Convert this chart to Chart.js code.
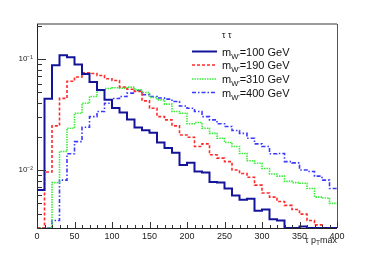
<!DOCTYPE html>
<html><head><meta charset="utf-8">
<script src="https://cdn.jsdelivr.net/npm/chart.js@4"></script>
<style>html,body{margin:0;padding:0;background:#fff;}#wrap{width:374px;height:253px;}</style>
</head><body><div id="wrap"><canvas id="c" width="374" height="253"></canvas></div>
<script>
// bin low edges (bin width 10)
const binLow = [0,10,20,30,40,50,60,70,80,90,100,110,120,130,140,150,160,170,180,190,200,210,220,230,240,250,260,270,280,290,300,310,320,330,340,350,360,370,380,390];
const xMax = 400;
const seriesNames = ["100", "190", "310", "400"];
const m100 = [0.0066,0.0439,0.0880,0.108,0.104,0.0895,0.0735,0.0620,0.0526,0.0429,0.0362,0.0330,0.0285,0.0242,0.0228,0.0217,0.0177,0.0158,0.0143,0.0111,0.0116,0.0097,0.0095,0.0078,0.0077,0.0068,0.0059,0.0054,0.0055,0.0043,0.0044,0.0036,0.0035,0,0,0.0031,0,0,0,0];
const m190 = [0,0.0096,0.0250,0.0442,0.0630,0.0690,0.0750,0.0740,0.0710,0.0665,0.0640,0.0560,0.0535,0.0510,0.0420,0.0360,0.0303,0.0283,0.0250,0.0207,0.0197,0.0163,0.0172,0.0137,0.0128,0.0119,0.0100,0.0093,0.0086,0.0073,0.0062,0.0057,0.0052,0.0048,0.0044,0.0040,0.0035,0.0032,0.0030,0];
const m310 = [0,0,0.0077,0.0147,0.0238,0.0325,0.0400,0.0460,0.0521,0.0543,0.0551,0.0547,0.0558,0.0528,0.0500,0.0451,0.0429,0.0392,0.0337,0.0325,0.0261,0.0268,0.0238,0.0214,0.0193,0.0177,0.0163,0.0141,0.0121,0.0115,0.0103,0.0092,0.0088,0.0079,0.0077,0.0076,0.0068,0.0057,0.0056,0.0050];
const m400 = [0,0,0.0035,0.0081,0.0140,0.0180,0.0243,0.0303,0.0337,0.0400,0.0441,0.0460,0.0493,0.0521,0.0476,0.0460,0.0445,0.0435,0.0414,0.0378,0.0360,0.0337,0.0303,0.0283,0.0261,0.0247,0.0227,0.0214,0.0193,0.0172,0.0163,0.0140,0.0141,0.0119,0.0116,0.0100,0.0097,0.0088,0.0081,0.0068];
const yMin = 0.003, yMax = 0.207;
const yLabels = {"0.1": "10\u207B\u00B9", "0.01": "10\u207B\u00B2"};

const styles = [
  {color: "#14149a", width: 2, dash: []},
  {color: "#ff2a2a", width: 1.6, dash: [3, 2]},
  {color: "#3cee3c", width: 1.6, dash: [1.5, 1]},
  {color: "#3a3aff", width: 1.6, dash: [4, 2, 1.5, 2]}
];
const values = [m100, m190, m310, m400];

function toPoints(arr) {
  const pts = binLow.map((x, i) => ({x: x, y: Math.max(arr[i], yMin)}));
  pts.push({x: xMax, y: Math.max(arr[arr.length - 1], yMin)});
  return pts;
}

const datasets = values.map((arr, k) => ({
  label: seriesNames[k],
  data: toPoints(arr),
  borderColor: styles[k].color,
  borderWidth: styles[k].width,
  borderDash: styles[k].dash,
  stepped: 'before',
  pointRadius: 0,
  fill: false,
  tension: 0
}));

const FONT = "'Liberation Sans', Arial, Helvetica, sans-serif";

const rootPlugin = {
  id: 'rootStyle',
  afterDraw(chart) {
    const ctx = chart.ctx;
    const a = chart.chartArea;
    const xs = chart.scales.x, ys = chart.scales.y;
    ctx.save();
    // frame
    ctx.lineWidth = 2; ctx.strokeStyle = '#9a9a9a';
    ctx.beginPath(); ctx.moveTo(a.left, a.top); ctx.lineTo(a.right, a.top); ctx.stroke();
    ctx.lineWidth = 1; ctx.strokeStyle = '#555';
    ctx.beginPath(); ctx.moveTo(a.right + 0.5, a.top); ctx.lineTo(a.right + 0.5, a.bottom); ctx.stroke();
    ctx.strokeStyle = '#222';
    ctx.beginPath(); ctx.moveTo(a.left + 0.5, a.top); ctx.lineTo(a.left + 0.5, a.bottom + 0.5); ctx.lineTo(a.right, a.bottom + 0.5); ctx.stroke();
    // x ticks
    ctx.strokeStyle = '#333'; ctx.lineWidth = 1;
    for (let v = 0; v <= xMax; v += 10) {
      const px = Math.round(xs.getPixelForValue(v)) + 0.5;
      const len = (v % 50 === 0) ? 6 : 3;
      ctx.beginPath(); ctx.moveTo(px, a.bottom); ctx.lineTo(px, a.bottom - len); ctx.stroke();
    }
    // y ticks (log)
    for (let e = -3; e <= -1; e++) {
      for (let m = 1; m <= 9; m++) {
        const v = m * Math.pow(10, e);
        if (v < yMin * 0.999 || v > yMax) continue;
        const py = Math.round(ys.getPixelForValue(v)) + 0.5;
        const len = (m === 1) ? 9 : 5;
        ctx.beginPath(); ctx.moveTo(a.left, py); ctx.lineTo(a.left + len, py); ctx.stroke();
      }
    }
    // x title: tau p_T max
    ctx.fillStyle = '#222';
    ctx.textBaseline = 'alphabetic';
    ctx.font = '9px ' + FONT;
    const t1 = '\u03C4 p', t3 = 'max';
    ctx.font = '6.5px ' + FONT; const wT = ctx.measureText('T').width;
    ctx.font = '9px ' + FONT;
    const w1 = ctx.measureText(t1).width, w3 = ctx.measureText(t3).width;
    let tx = a.right - (w1 + wT + w3);
    const ty = 243;
    ctx.textAlign = 'left';
    ctx.fillText(t1, tx, ty); tx += w1;
    ctx.font = '6.5px ' + FONT; ctx.fillText('T', tx, ty + 2); tx += wT;
    ctx.font = '9px ' + FONT; ctx.fillText(t3, tx, ty);
    // legend
    ctx.fillStyle = '#111';
    ctx.font = '9px ' + FONT;
    ctx.fillText('\u03C4 \u03C4', 222, 38);
    const ly = [51.5, 65, 79, 92.5];
    styles.forEach((s, k) => {
      ctx.strokeStyle = s.color; ctx.lineWidth = s.width; ctx.setLineDash(s.dash);
      ctx.beginPath(); ctx.moveTo(192, ly[k]); ctx.lineTo(217, ly[k]); ctx.stroke();
      ctx.setLineDash([]);
      let x = 222;
      const base = ly[k] + 4;
      ctx.fillStyle = '#111';
      ctx.font = '11px ' + FONT; ctx.fillText('m', x, base); x += ctx.measureText('m').width;
      ctx.font = '7.5px ' + FONT; ctx.fillText("W'", x, base + 3); x += ctx.measureText("W'").width;
      ctx.font = '11px ' + FONT; ctx.fillText('=' + seriesNames[k] + ' GeV', x, base);
    });
    ctx.restore();
  }
};

new Chart(document.getElementById('c'), {
  type: 'line',
  data: {datasets: datasets},
  options: {
    responsive: false,
    animation: false,
    layout: {padding: {top: 24, right: 37, left: 0, bottom: 0}},
    plugins: {legend: {display: false}, tooltip: {enabled: false}},
    scales: {
      x: {
        type: 'linear', min: 0, max: xMax,
        grid: {display: false, drawTicks: false},
        border: {display: false},
        afterFit(s) { s.height = 25; },
        ticks: {stepSize: 50, autoSkip: false, maxRotation: 0, padding: 3, color: '#222', font: {size: 9, family: FONT}}
      },
      y: {
        type: 'logarithmic', min: yMin, max: yMax,
        grid: {display: false, drawTicks: false},
        border: {display: false},
        afterFit(s) { s.width = 37; },
        ticks: {
          autoSkip: false, padding: 4, color: '#222', font: {size: 8, family: FONT},
          callback(v) {
            for (const k in yLabels) { if (Math.abs(v - parseFloat(k)) < 1e-9) return yLabels[k]; }
            return '';
          }
        }
      }
    }
  },
  plugins: [rootPlugin]
});
</script>
</body></html>
